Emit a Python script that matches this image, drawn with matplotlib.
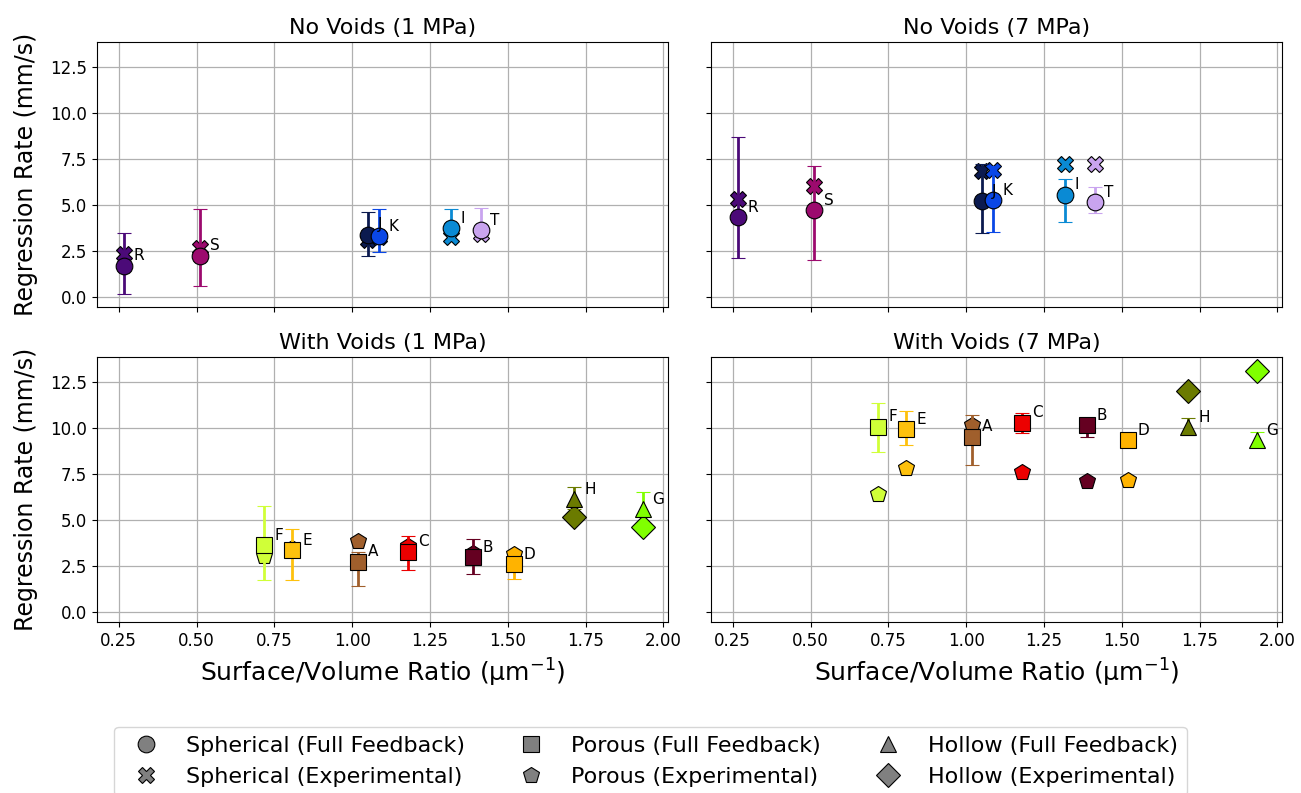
import matplotlib
matplotlib.use("Agg")
import matplotlib.pyplot as plt
from matplotlib.lines import Line2D

# ---------------- data ----------------
# No-voids samples (spherical particles)
nv_labels = ['R', 'S', 'J', 'K', 'I', 'T']
nv_x = [0.267, 0.512, 1.052, 1.086, 1.318, 1.413]
nv_colors = ['#4b0a78', '#9c0a6e', '#0b1a4f', '#0a47e6', '#0a8ad4', '#c9a4ef']

nv1_ff = [1.70, 2.24, 3.38, 3.30, 3.75, 3.64]
nv1_lo = [0.16, 0.61, 2.21, 2.43, 3.45, 3.35]
nv1_hi = [3.46, 4.78, 4.60, 4.78, 4.78, 4.84]
nv1_exp = [2.34, 2.66, 3.08, 3.25, 3.28, 3.39]

nv7_ff = [4.33, 4.73, 5.22, 5.27, 5.56, 5.14]
nv7_lo = [2.12, 2.01, 3.49, 3.53, 4.09, 4.56]
nv7_hi = [8.68, 7.12, 7.23, 7.10, 6.41, 5.96]
nv7_exp = [5.33, 6.01, 6.86, 6.90, 7.23, 7.23]

# With-voids samples (porous / hollow particles)
wv_labels = ['F', 'E', 'A', 'C', 'B', 'D', 'H', 'G']
wv_type = ['porous', 'porous', 'porous', 'porous', 'porous', 'porous', 'hollow', 'hollow']
wv_x = [0.718, 0.808, 1.020, 1.180, 1.388, 1.519, 1.714, 1.934]
wv_colors = ['#d0ff38', '#fec10d', '#a05f2c', '#ec0000', '#650021', '#ffb300', '#6b7b00', '#80ff00']

wv1_ff = [3.64, 3.37, 2.73, 3.28, 2.97, 2.61, 6.14, 5.60]
wv1_lo = [1.74, 1.74, 1.43, 2.25, 2.05, 1.79, 5.60, 5.30]
wv1_hi = [5.74, 4.50, 3.28, 4.15, 3.95, 3.00, 6.76, 6.54]
wv1_exp = [3.06, 3.48, 3.84, 3.60, 3.19, 3.15, 5.14, 4.60]

wv7_ff = [10.07, 9.94, 9.53, 10.29, 10.13, 9.35, 10.02, 9.33]
wv7_lo = [8.71, 9.06, 7.97, 9.71, 9.49, 9.00, 9.60, 9.00]
wv7_hi = [11.34, 10.89, 10.72, 10.80, 10.50, 9.70, 10.52, 9.78]
wv7_exp = [6.41, 7.83, 10.13, 7.59, 7.10, 7.19, 11.99, 13.08]

panel_titles = ['No Voids (1 MPa)', 'No Voids (7 MPa)', 'With Voids (1 MPa)', 'With Voids (7 MPa)']
legend_labels = ['Spherical (Full Feedback)', 'Spherical (Experimental)',
                 'Porous (Full Feedback)', 'Porous (Experimental)',
                 'Hollow (Full Feedback)', 'Hollow (Experimental)']

markers = {'spherical': ('o', 'X'), 'porous': ('s', 'p'), 'hollow': ('^', 'D')}

# ---------------- figure ----------------
W, H = 1301, 793
fig = plt.figure(figsize=(W / 100, H / 100), dpi=100)

def box(x0, y0, x1, y1):
    return [x0 / W, 1 - y1 / H, (x1 - x0) / W, (y1 - y0) / H]

ax_tl = fig.add_axes(box(97, 42, 668, 307))
ax_tr = fig.add_axes(box(711, 42, 1282, 307))
ax_bl = fig.add_axes(box(97, 357, 668, 622))
ax_br = fig.add_axes(box(711, 357, 1282, 622))
axes = [ax_tl, ax_tr, ax_bl, ax_br]


def draw(ax, labels, types, xs, colors, ff, lo, hi, exp):
    for lab, t, x, c, f, l, h, e in zip(labels, types, xs, colors, ff, lo, hi, exp):
        m_ff, m_exp = markers[t]
        ax.plot([x], [e], linestyle='none', marker=m_exp, ms=12, mfc=c,
                mec='black', mew=0.8, zorder=2)
        ax.errorbar([x], [f], yerr=[[f - l], [h - f]], fmt=m_ff, ms=12,
                    color=c, mfc=c, mec='black', mew=0.8, ecolor=c,
                    elinewidth=2, capsize=5, capthick=2, zorder=3)
        ax.annotate(lab, (x, f), xytext=(7, 7), textcoords='offset points',
                    ha='left', va='center', fontsize=11, zorder=4)


draw(ax_tl, nv_labels, ['spherical'] * 6, nv_x, nv_colors, nv1_ff, nv1_lo, nv1_hi, nv1_exp)
draw(ax_tr, nv_labels, ['spherical'] * 6, nv_x, nv_colors, nv7_ff, nv7_lo, nv7_hi, nv7_exp)
draw(ax_bl, wv_labels, wv_type, wv_x, wv_colors, wv1_ff, wv1_lo, wv1_hi, wv1_exp)
draw(ax_br, wv_labels, wv_type, wv_x, wv_colors, wv7_ff, wv7_lo, wv7_hi, wv7_exp)

for i, ax in enumerate(axes):
    ax.set_xlim(0.18, 2.015)
    ax.set_ylim(-0.55, 13.85)
    ax.set_xticks([0.25, 0.5, 0.75, 1.0, 1.25, 1.5, 1.75, 2.0])
    ax.set_yticks([0, 2.5, 5.0, 7.5, 10.0, 12.5])
    ax.grid(True, color='#b0b0b0', linewidth=0.9)
    ax.set_axisbelow(True)
    ax.set_title(panel_titles[i], fontsize=16, pad=6)
    ax.tick_params(labelsize=12)
    if i in (0, 1):
        ax.tick_params(labelbottom=False)
    else:
        ax.set_xlabel('Surface/Volume Ratio (μm$^{-1}$)', fontsize=18, labelpad=5)
    if i in (1, 3):
        ax.tick_params(labelleft=False)
    else:
        ax.set_ylabel('Regression Rate (mm/s)', fontsize=17, labelpad=9)

# legend
handles = []
for t in ['spherical', 'porous', 'hollow']:
    for k in (0, 1):
        handles.append(Line2D([], [], linestyle='none', marker=markers[t][k], ms=12,
                              mfc='#808080', mec='black', mew=0.8))
fig.legend(handles, legend_labels, ncol=3, loc='upper center',
           bbox_to_anchor=(0.5, 1 - 727 / H), bbox_transform=fig.transFigure,
           borderaxespad=0, fontsize=16, frameon=True, columnspacing=2.0)

fig.savefig('out.png', dpi=100)
